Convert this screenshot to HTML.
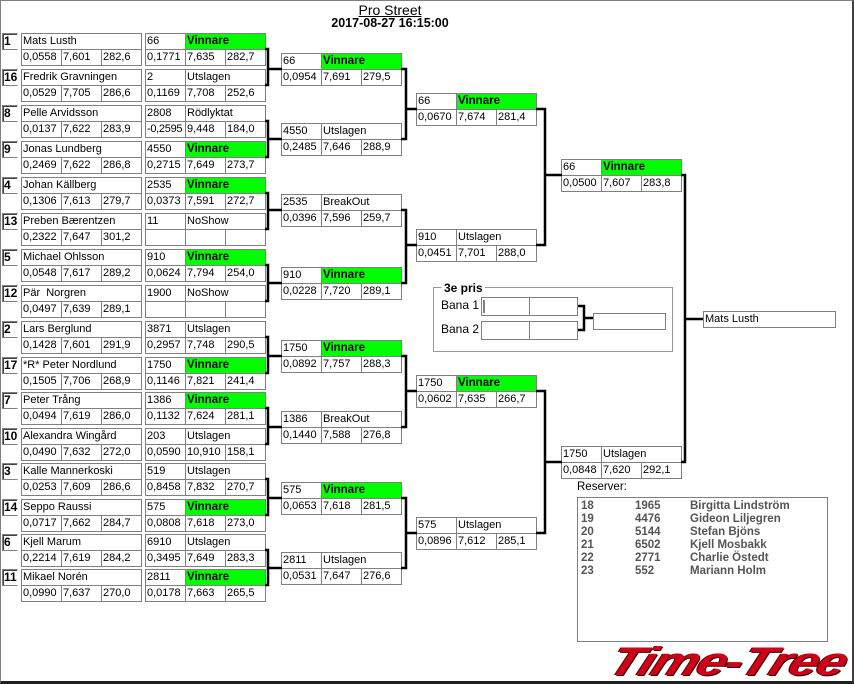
<!DOCTYPE html>
<html><head><meta charset="utf-8"><style>
*{margin:0;padding:0;box-sizing:border-box}
body{width:854px;height:684px;position:relative;background:#fff;font-family:"Liberation Sans",sans-serif;font-size:11px;color:#000;overflow:hidden}
.b{position:absolute;width:121px;height:33px}
.b div{position:absolute;border:1px solid #808080;height:17px;line-height:15px;padding-left:1px;white-space:nowrap;overflow:hidden;background:#fff}
.n{left:0;top:0;width:121px}
.k{left:0;top:0;width:41px}
.t{left:40px;top:0;width:81px}
.s1{left:0;top:16px;width:41px}
.s2{left:40px;top:16px;width:41px}
.s3{left:80px;top:16px;width:41px}
.b div.g{background:#00ff00;font-weight:bold;font-size:11.5px}
.sd{position:absolute;left:2px;width:16px;height:17px;border:1px solid #808080;border-right-color:#fff;font-weight:bold;font-size:12px;line-height:15px;padding-left:1px;box-shadow:inset 1px 1px 0 #404040}
.res{position:absolute;left:577px;top:497px;width:251px;height:145px;border:1px solid #808080;color:#555;font-weight:bold;font-size:11.5px}
.res div{position:absolute;height:13px;line-height:13px}
</style></head><body>
<div style="position:absolute;left:0;top:0;width:854px;height:684px;border-left:1px solid #808080;border-top:1px solid #808080;border-right:2px solid #404040;border-bottom:3px solid #202020"></div>
<div style="position:absolute;left:0;width:780px;top:2px;text-align:center;font-size:14px;text-decoration:underline">Pro Street</div>
<div style="position:absolute;left:0;width:780px;top:16px;text-align:center;font-size:12.5px;font-weight:bold">2017-08-27 16:15:00</div>

<div class="sd" style="top:33px">1</div><div class="sd" style="top:69px">16</div>
<div class="sd" style="top:105px">8</div><div class="sd" style="top:141px">9</div>
<div class="sd" style="top:177px">4</div><div class="sd" style="top:213px">13</div>
<div class="sd" style="top:249px">5</div><div class="sd" style="top:285px">12</div>
<div class="sd" style="top:321px">2</div><div class="sd" style="top:357px">17</div>
<div class="sd" style="top:392px">7</div><div class="sd" style="top:428px">10</div>
<div class="sd" style="top:463px">3</div><div class="sd" style="top:499px">14</div>
<div class="sd" style="top:534px">6</div><div class="sd" style="top:569px">11</div>

<div class="b" style="left:21px;top:33px"><div class="n">Mats Lusth</div><div class="s1">0,0558</div><div class="s2">7,601</div><div class="s3">282,6</div></div>
<div class="b" style="left:21px;top:69px"><div class="n">Fredrik Gravningen</div><div class="s1">0,0529</div><div class="s2">7,705</div><div class="s3">286,6</div></div>
<div class="b" style="left:21px;top:105px"><div class="n">Pelle Arvidsson</div><div class="s1">0,0137</div><div class="s2">7,622</div><div class="s3">283,9</div></div>
<div class="b" style="left:21px;top:141px"><div class="n">Jonas Lundberg</div><div class="s1">0,2469</div><div class="s2">7,622</div><div class="s3">286,8</div></div>
<div class="b" style="left:21px;top:177px"><div class="n">Johan Källberg</div><div class="s1">0,1306</div><div class="s2">7,613</div><div class="s3">279,7</div></div>
<div class="b" style="left:21px;top:213px"><div class="n">Preben Bærentzen</div><div class="s1">0,2322</div><div class="s2">7,647</div><div class="s3">301,2</div></div>
<div class="b" style="left:21px;top:249px"><div class="n">Michael Ohlsson</div><div class="s1">0,0548</div><div class="s2">7,617</div><div class="s3">289,2</div></div>
<div class="b" style="left:21px;top:285px"><div class="n">Pär&nbsp; Norgren</div><div class="s1">0,0497</div><div class="s2">7,639</div><div class="s3">289,1</div></div>
<div class="b" style="left:21px;top:321px"><div class="n">Lars Berglund</div><div class="s1">0,1428</div><div class="s2">7,601</div><div class="s3">291,9</div></div>
<div class="b" style="left:21px;top:357px"><div class="n">*R* Peter Nordlund</div><div class="s1">0,1505</div><div class="s2">7,706</div><div class="s3">268,9</div></div>
<div class="b" style="left:21px;top:392px"><div class="n">Peter Trång</div><div class="s1">0,0494</div><div class="s2">7,619</div><div class="s3">286,0</div></div>
<div class="b" style="left:21px;top:428px"><div class="n">Alexandra Wingård</div><div class="s1">0,0490</div><div class="s2">7,632</div><div class="s3">272,0</div></div>
<div class="b" style="left:21px;top:463px"><div class="n">Kalle Mannerkoski</div><div class="s1">0,0253</div><div class="s2">7,609</div><div class="s3">286,6</div></div>
<div class="b" style="left:21px;top:499px"><div class="n">Seppo Raussi</div><div class="s1">0,0717</div><div class="s2">7,662</div><div class="s3">284,7</div></div>
<div class="b" style="left:21px;top:534px"><div class="n">Kjell Marum</div><div class="s1">0,2214</div><div class="s2">7,619</div><div class="s3">284,2</div></div>
<div class="b" style="left:21px;top:569px"><div class="n">Mikael Norén</div><div class="s1">0,0990</div><div class="s2">7,637</div><div class="s3">270,0</div></div>

<div class="b" style="left:145px;top:33px"><div class="k">66</div><div class="t g">Vinnare</div><div class="s1">0,1771</div><div class="s2">7,635</div><div class="s3">282,7</div></div>
<div class="b" style="left:145px;top:69px"><div class="k">2</div><div class="t">Utslagen</div><div class="s1">0,1169</div><div class="s2">7,708</div><div class="s3">252,6</div></div>
<div class="b" style="left:145px;top:105px"><div class="k">2808</div><div class="t">Rödlyktat</div><div class="s1" style="letter-spacing:-0.3px">-0,2595</div><div class="s2">9,448</div><div class="s3">184,0</div></div>
<div class="b" style="left:145px;top:141px"><div class="k">4550</div><div class="t g">Vinnare</div><div class="s1">0,2715</div><div class="s2">7,649</div><div class="s3">273,7</div></div>
<div class="b" style="left:145px;top:177px"><div class="k">2535</div><div class="t g">Vinnare</div><div class="s1">0,0373</div><div class="s2">7,591</div><div class="s3">272,7</div></div>
<div class="b" style="left:145px;top:213px"><div class="k">11</div><div class="t">NoShow</div><div class="s1"></div><div class="s2"></div><div class="s3"></div></div>
<div class="b" style="left:145px;top:249px"><div class="k">910</div><div class="t g">Vinnare</div><div class="s1">0,0624</div><div class="s2">7,794</div><div class="s3">254,0</div></div>
<div class="b" style="left:145px;top:285px"><div class="k">1900</div><div class="t">NoShow</div><div class="s1"></div><div class="s2"></div><div class="s3"></div></div>
<div class="b" style="left:145px;top:321px"><div class="k">3871</div><div class="t">Utslagen</div><div class="s1">0,2957</div><div class="s2">7,748</div><div class="s3">290,5</div></div>
<div class="b" style="left:145px;top:357px"><div class="k">1750</div><div class="t g">Vinnare</div><div class="s1">0,1146</div><div class="s2">7,821</div><div class="s3">241,4</div></div>
<div class="b" style="left:145px;top:392px"><div class="k">1386</div><div class="t g">Vinnare</div><div class="s1">0,1132</div><div class="s2">7,624</div><div class="s3">281,1</div></div>
<div class="b" style="left:145px;top:428px"><div class="k">203</div><div class="t">Utslagen</div><div class="s1">0,0590</div><div class="s2">10,910</div><div class="s3">158,1</div></div>
<div class="b" style="left:145px;top:463px"><div class="k">519</div><div class="t">Utslagen</div><div class="s1">0,8458</div><div class="s2">7,832</div><div class="s3">270,7</div></div>
<div class="b" style="left:145px;top:499px"><div class="k">575</div><div class="t g">Vinnare</div><div class="s1">0,0808</div><div class="s2">7,618</div><div class="s3">273,0</div></div>
<div class="b" style="left:145px;top:534px"><div class="k">6910</div><div class="t">Utslagen</div><div class="s1">0,3495</div><div class="s2">7,649</div><div class="s3">283,3</div></div>
<div class="b" style="left:145px;top:569px"><div class="k">2811</div><div class="t g">Vinnare</div><div class="s1">0,0178</div><div class="s2">7,663</div><div class="s3">265,5</div></div>

<div class="b" style="left:281px;top:53px"><div class="k">66</div><div class="t g">Vinnare</div><div class="s1">0,0954</div><div class="s2">7,691</div><div class="s3">279,5</div></div>
<div class="b" style="left:281px;top:123px"><div class="k">4550</div><div class="t">Utslagen</div><div class="s1">0,2485</div><div class="s2">7,646</div><div class="s3">288,9</div></div>
<div class="b" style="left:281px;top:194px"><div class="k">2535</div><div class="t">BreakOut</div><div class="s1">0,0396</div><div class="s2">7,596</div><div class="s3">259,7</div></div>
<div class="b" style="left:281px;top:267px"><div class="k">910</div><div class="t g">Vinnare</div><div class="s1">0,0228</div><div class="s2">7,720</div><div class="s3">289,1</div></div>
<div class="b" style="left:281px;top:340px"><div class="k">1750</div><div class="t g">Vinnare</div><div class="s1">0,0892</div><div class="s2">7,757</div><div class="s3">288,3</div></div>
<div class="b" style="left:281px;top:411px"><div class="k">1386</div><div class="t">BreakOut</div><div class="s1">0,1440</div><div class="s2">7,588</div><div class="s3">276,8</div></div>
<div class="b" style="left:281px;top:482px"><div class="k">575</div><div class="t g">Vinnare</div><div class="s1">0,0653</div><div class="s2">7,618</div><div class="s3">281,5</div></div>
<div class="b" style="left:281px;top:552px"><div class="k">2811</div><div class="t">Utslagen</div><div class="s1">0,0531</div><div class="s2">7,647</div><div class="s3">276,6</div></div>

<div class="b" style="left:416px;top:93px"><div class="k">66</div><div class="t g">Vinnare</div><div class="s1">0,0670</div><div class="s2">7,674</div><div class="s3">281,4</div></div>
<div class="b" style="left:416px;top:229px"><div class="k">910</div><div class="t">Utslagen</div><div class="s1">0,0451</div><div class="s2">7,701</div><div class="s3">288,0</div></div>
<div class="b" style="left:416px;top:375px"><div class="k">1750</div><div class="t g">Vinnare</div><div class="s1">0,0602</div><div class="s2">7,635</div><div class="s3">266,7</div></div>
<div class="b" style="left:416px;top:517px"><div class="k">575</div><div class="t">Utslagen</div><div class="s1">0,0896</div><div class="s2">7,612</div><div class="s3">285,1</div></div>

<div class="b" style="left:561px;top:159px"><div class="k">66</div><div class="t g">Vinnare</div><div class="s1">0,0500</div><div class="s2">7,607</div><div class="s3">283,8</div></div>
<div class="b" style="left:561px;top:446px"><div class="k">1750</div><div class="t">Utslagen</div><div class="s1">0,0848</div><div class="s2">7,620</div><div class="s3">292,1</div></div>

<div style="position:absolute;left:703px;top:311px;width:133px;height:17px;border:1px solid #808080;line-height:15px;padding-left:1px">Mats Lusth</div>

<svg style="position:absolute;left:0;top:0" width="854" height="684">
<g fill="none" stroke="#000" stroke-width="2.5">
<path d="M265,49H268V85H265M268,69H282"/>
<path d="M265,121H268V157H265M268,139H282"/>
<path d="M265,193H268V229H265M268,210H282"/>
<path d="M265,265H268V301H265M268,283H282"/>
<path d="M265,337H268V373H265M268,356H282"/>
<path d="M265,408H268V444H265M268,427H282"/>
<path d="M265,479H268V515H265M268,498H282"/>
<path d="M265,550H268V585H265M268,568H282"/>
<path d="M401,69H406V139H401M406,109H417"/>
<path d="M401,210H406V283H401M406,245H417"/>
<path d="M401,356H406V427H401M406,391H417"/>
<path d="M401,498H406V568H401M406,533H417"/>
<path d="M536,109H545V245H536M545,175H562"/>
<path d="M536,391H545V533H536M545,462H562"/>
<path d="M681,175H685V462H681M685,319H703"/>
<path d="M577,306H584V330H577M584,318H593"/>
</g>
<g fill="none" stroke="#999" stroke-width="1">
<path d="M441.5,287.5H433.5V351.5H672.5V287.5H485"/>
</g>
<g fill="none" stroke="#808080" stroke-width="1">
<rect x="481.5" y="297.5" width="96" height="18"/><line x1="529.5" y1="297" x2="529.5" y2="316"/>
<rect x="481.5" y="321.5" width="96" height="18"/><line x1="529.5" y1="321" x2="529.5" y2="340"/>
<rect x="593.5" y="313.5" width="72" height="16"/>
</g>
<line x1="484" y1="300" x2="484" y2="313" stroke="#000" stroke-width="1"/>
</svg>
<div style="position:absolute;left:443px;top:281px;font-weight:bold;font-size:12px;background:#fff;padding:0 1px">3e pris</div>
<div style="position:absolute;left:441px;top:298px;font-size:12px">Bana 1</div>
<div style="position:absolute;left:441px;top:322px;font-size:12px">Bana 2</div>

<div style="position:absolute;left:577px;top:481px;font-size:11.5px">Reserver:</div>
<div class="res">
<div style="left:3px;top:2px">18</div><div style="left:57px;top:2px">1965</div><div style="left:112px;top:2px">Birgitta Lindström</div>
<div style="left:3px;top:15px">19</div><div style="left:57px;top:15px">4476</div><div style="left:112px;top:15px">Gideon Liljegren</div>
<div style="left:3px;top:28px">20</div><div style="left:57px;top:28px">5144</div><div style="left:112px;top:28px">Stefan Bjöns</div>
<div style="left:3px;top:41px">21</div><div style="left:57px;top:41px">6502</div><div style="left:112px;top:41px">Kjell Mosbakk</div>
<div style="left:3px;top:54px">22</div><div style="left:57px;top:54px">2771</div><div style="left:112px;top:54px">Charlie Östedt</div>
<div style="left:3px;top:67px">23</div><div style="left:57px;top:67px">552</div><div style="left:112px;top:67px">Mariann Holm</div>
</div>

<div style="position:absolute;left:620px;top:640px;font-size:40px;font-weight:900;font-style:italic;color:#d00018;letter-spacing:-1px;transform-origin:0 0;transform:skewX(-22deg) scaleX(1.3);text-shadow:1px 1px 0 #300,-1px 0 0 #600;line-height:44px">Time-Tree</div>
</body></html>
